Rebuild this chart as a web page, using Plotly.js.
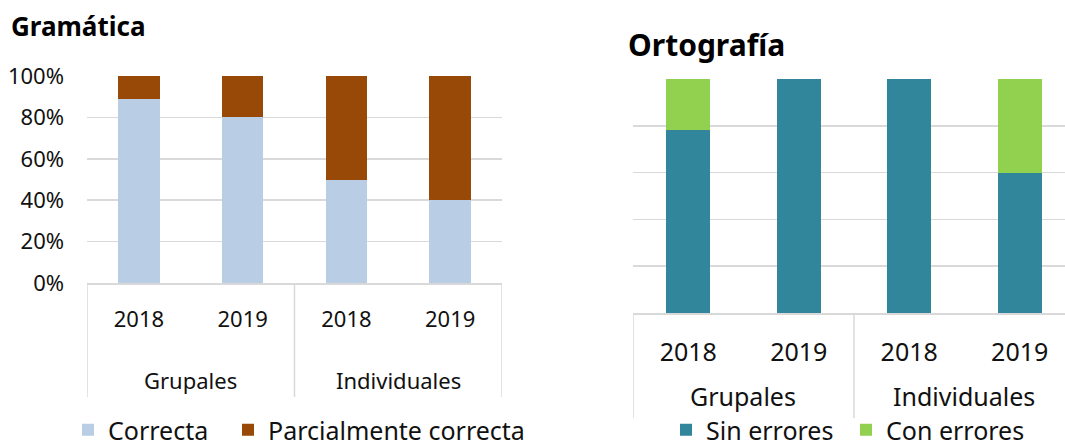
<!DOCTYPE html>
<html><head><meta charset="utf-8">
<script src="https://cdn.plot.ly/plotly-3.0.1.min.js"></script>
<style>html,body{margin:0;padding:0;background:#fff}#c{width:1065px;height:447px}</style>
</head><body><div id="c"></div>
<script>
const groups = ['Grupales', 'Grupales', 'Individuales', 'Individuales'];
const years = ['2018', '2019', '2018', '2019'];
const gramCorrecta = [89, 80, 50, 40];
const gramParcial = [11, 20, 50, 60];
const ortoSin = [78, 100, 100, 60];
const ortoCon = [22, 0, 0, 40];
const yTicks = [0, 20, 40, 60, 80, 100];

const FONT = 'Noto Sans, Open Sans, sans-serif';
const grid = '#d9d9d9';
const W = 1065, H = 447;
const px = v => v / W;
const py = v => 1 - v / H;

const idx = years.map((_, i) => i);
// group centres and boundaries derived from the groups array
const groupNames = [...new Set(groups)];
const groupCentres = groupNames.map(g => {
  const ii = idx.filter(i => groups[i] === g);
  return ii.reduce((a, b) => a + b, 0) / ii.length;
});
const bounds = [-0.5];
for (let i = 1; i < groups.length; i++) if (groups[i] !== groups[i - 1]) bounds.push(i - 0.5);
bounds.push(groups.length - 0.5);

const traces = [
  {type: 'bar', name: 'Correcta', x: idx, y: gramCorrecta, xaxis: 'x', yaxis: 'y', marker: {color: '#b9cde5'}, legend: 'legend'},
  {type: 'bar', name: 'Parcialmente correcta', x: idx, y: gramParcial, xaxis: 'x', yaxis: 'y', marker: {color: '#984807'}, legend: 'legend2'},
  {type: 'bar', name: 'Sin errores', x: idx, y: ortoSin, xaxis: 'x2', yaxis: 'y2', marker: {color: '#31869b'}, legend: 'legend3'},
  {type: 'bar', name: 'Con errores', x: idx, y: ortoCon, xaxis: 'x2', yaxis: 'y2', marker: {color: '#92d050'}, legend: 'legend4'}
];

const xbase = {
  type: 'linear', tickvals: idx, ticktext: years, showline: true, linecolor: grid, linewidth: 1.5,
  ticks: '', showgrid: false, zeroline: false, fixedrange: true
};
const ybase = {
  range: [0, 100], tickvals: yTicks, showgrid: true, gridcolor: grid, gridwidth: 1.5,
  zeroline: false, ticks: '', fixedrange: true
};

// chart geometry (pixels)
const L = {x0: 87, x1: 502, top: 76, bot: 283, yearOff: 16, grpY: 380, divBot: 397, fs: 22};
const R = {x0: 633, x1: 1065, top: 79, bot: 313, yearOff: 16, grpY: 396, divBot: 418, fs: 25};

const shapes = [];
const annotations = [];
[[L, 'x'], [R, 'x2']].forEach(([g, xr]) => {
  bounds.forEach(b => shapes.push({type: 'line', xref: xr, yref: 'paper', x0: b, x1: b,
    y0: py(g.bot), y1: py(g.divBot), line: {color: grid, width: 1.5}}));
  groupNames.forEach((name, k) => annotations.push({text: name, xref: xr, yref: 'paper',
    x: groupCentres[k], y: py(g.grpY), xanchor: 'center', yanchor: 'middle', showarrow: false,
    font: {size: g.fs, color: '#111', family: FONT}}));
});
annotations.push(
  {text: '<b>Gramática</b>', xref: 'paper', yref: 'paper', x: px(9), y: py(26),
   xanchor: 'left', yanchor: 'middle', showarrow: false, font: {size: 26, color: '#000', family: FONT}},
  {text: '<b>Ortografía</b>', xref: 'paper', yref: 'paper', x: px(626), y: py(45),
   xanchor: 'left', yanchor: 'middle', showarrow: false, font: {size: 30, color: '#000', family: FONT}}
);

const leg = xText => ({orientation: 'h', x: px(xText - 40), xanchor: 'left', y: py(430), yanchor: 'middle',
  font: {size: 25, color: '#111'}, bgcolor: 'rgba(0,0,0,0)'});

const layout = {
  width: W, height: H,
  margin: {l: 0, r: 0, t: 0, b: 0, autoexpand: false},
  paper_bgcolor: '#fff', plot_bgcolor: '#fff',
  font: {family: FONT, color: '#111', size: 22},
  barmode: 'stack', bargap: 0.6,
  xaxis: Object.assign({}, xbase, {domain: [px(L.x0), px(L.x1)], anchor: 'y', range: [-0.5, 3.5],
    tickfont: {size: L.fs, color: '#111'}, ticklabelstandoff: L.yearOff}),
  yaxis: Object.assign({}, ybase, {domain: [py(L.bot), py(L.top)], anchor: 'x',
    ticktext: yTicks.map(v => v + '%'), tickfont: {size: 22, color: '#111'}, ticklabelstandoff: 22}),
  xaxis2: Object.assign({}, xbase, {domain: [px(R.x0), 1], anchor: 'y2', range: [-0.5, 3.41],
    tickfont: {size: R.fs, color: '#111'}, ticklabelstandoff: R.yearOff}),
  yaxis2: Object.assign({}, ybase, {domain: [py(R.bot), py(R.top)], anchor: 'x2', showticklabels: false}),
  showlegend: true,
  legend: leg(108),
  legend2: leg(268),
  legend3: leg(706),
  legend4: leg(886),
  shapes: shapes,
  annotations: annotations
};

Plotly.newPlot('c', traces, layout, {displayModeBar: false, staticPlot: true});
</script></body></html>
